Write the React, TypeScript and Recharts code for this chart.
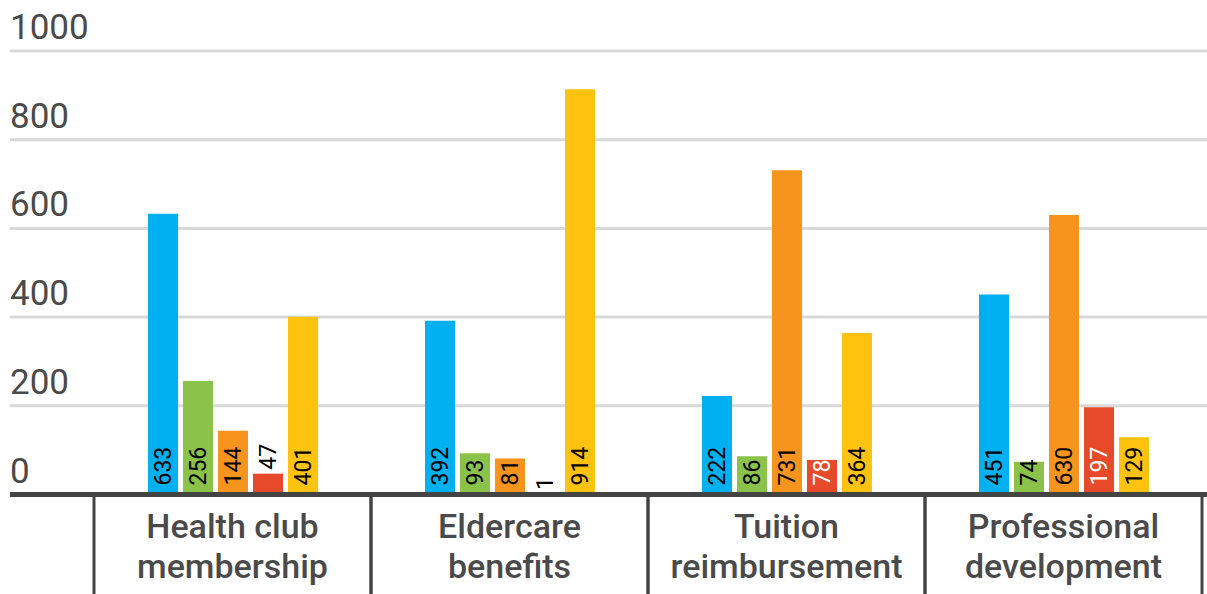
import { Bar, BarChart, CartesianGrid, LabelList, ReferenceLine, XAxis, YAxis } from "recharts"

const categories = ["Health club\nmembership", "Eldercare\nbenefits", "Tuition\nreimbursement", "Professional\ndevelopment"]
const seriesA = [633, 392, 222, 451]
const seriesB = [256, 93, 86, 74]
const seriesC = [144, 81, 731, 630]
const seriesD = [47, 1, 78, 197]
const seriesE = [401, 914, 364, 129]
const yTicks = [0, 200, 400, 600, 800, 1000]

const WIDTH = 1207
const HEIGHT = 594
const PLOT_LEFT = 94
const PLOT_RIGHT = 5
const BAND = (WIDTH - PLOT_LEFT - PLOT_RIGHT) / categories.length
const FONT = "Roboto, 'Noto Sans', sans-serif"
const TEXT_GRAY = "#4a4a4a"
const AXIS_DARK = "#444444"
const LABEL_SIZE = 23

const series = [
  { key: "a", values: seriesA, color: "#00b0f0", label: "#000" },
  { key: "b", values: seriesB, color: "#8bc34a", label: "#000" },
  { key: "c", values: seriesC, color: "#f7941d", label: "#000" },
  { key: "d", values: seriesD, color: "#e64a2a", label: "#fff" },
  { key: "e", values: seriesE, color: "#ffc20e", label: "#000" },
]

const data = categories.map((name, i) => {
  const row: Record<string, string | number> = { name }
  series.forEach((s) => {
    row[s.key] = s.values[i]
  })
  return row
})

function YTick({ y, payload }: any) {
  return (
    <text x={10} y={y - 12} fill={TEXT_GRAY} fontSize={35} fontFamily={FONT} textAnchor="start">
      {payload.value}
    </text>
  )
}

function XTick({ x, y, payload }: any) {
  const lines = String(payload.value).split("\n")
  return (
    <g>
      <line x1={x - BAND / 2} x2={x - BAND / 2} y1={y} y2={HEIGHT} stroke={AXIS_DARK} strokeWidth={3} />
      <line x1={x + BAND / 2} x2={x + BAND / 2} y1={y} y2={HEIGHT} stroke={AXIS_DARK} strokeWidth={3} />
      {lines.map((line, i) => (
        <text
          key={i}
          x={x}
          y={y + 43 + i * 40}
          textAnchor="middle"
          fill={TEXT_GRAY}
          fontSize={34}
          fontWeight={500}
          fontFamily={FONT}
        >
          {line}
        </text>
      ))}
    </g>
  )
}

function makeLabel(color: string) {
  return function ValueLabel({ x, y, width, height, value }: any) {
    const cx = x + width / 2
    const textLen = String(value).length * 0.56 * LABEL_SIZE
    const inside = height >= textLen + 5
    const startY = inside ? y + height - 9 : y - 4
    return (
      <text
        x={cx}
        y={startY}
        dy="0.36em"
        transform={`rotate(-90, ${cx}, ${startY})`}
        textAnchor="start"
        fill={inside ? color : "#000"}
        fontSize={LABEL_SIZE}
        fontFamily={FONT}
      >
        {value}
      </text>
    )
  }
}

export default function App() {
  return (
    <div style={{ position: "absolute", left: 0, top: 0, background: "#fff" }}>
      <BarChart
        width={WIDTH}
        height={HEIGHT}
        data={data}
        margin={{ top: 51, right: PLOT_RIGHT, bottom: 0, left: 0 }}
        barSize={30}
        barGap={5}
      >
        <CartesianGrid
          vertical={false}
          horizontal={(p: any) =>
            p.y1 > 490 ? <g key={p.key} /> : (
              <line key={p.key} x1={10} x2={WIDTH} y1={p.y1} y2={p.y2} stroke="#d9d9d9" strokeWidth={3} />
            )
          }
        />
        <XAxis
          dataKey="name"
          height={99.5}
          axisLine={false}
          tickLine={false}
          tickSize={0}
          tickMargin={0}
          interval={0}
          tick={<XTick />}
        />
        <YAxis
          width={PLOT_LEFT}
          domain={[0, 1000]}
          ticks={yTicks}
          axisLine={false}
          tickLine={false}
          tick={<YTick />}
        />
        {series.map((s) => (
          <Bar key={s.key} dataKey={s.key} fill={s.color} isAnimationActive={false}>
            <LabelList dataKey={s.key} content={makeLabel(s.label)} />
          </Bar>
        ))}
        <ReferenceLine
          y={0}
          shape={(p: any) => <line x1={10} x2={WIDTH} y1={p.y1} y2={p.y2} stroke={AXIS_DARK} strokeWidth={5} />}
        />
      </BarChart>
    </div>
  )
}
